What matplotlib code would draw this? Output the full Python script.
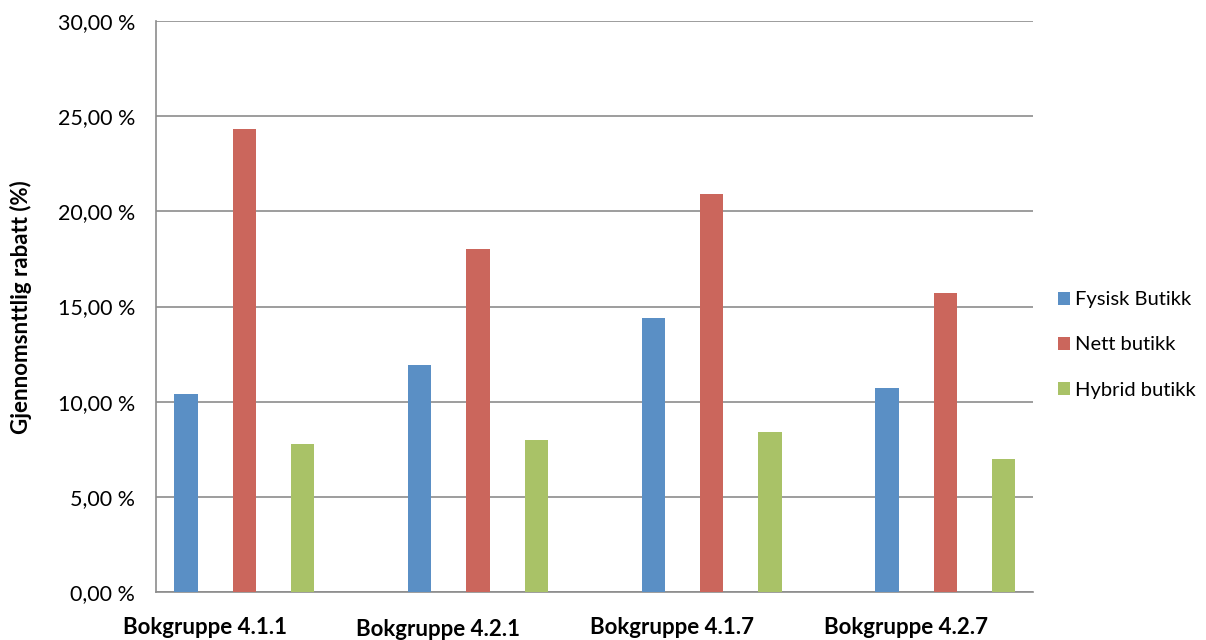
import matplotlib
matplotlib.use('Agg')
import matplotlib.pyplot as plt
import numpy as np

# Gjennomsnittlig rabatt per bokgruppe og butikktype (%)
groups = ['Bokgruppe 4.1.1', 'Bokgruppe 4.2.1', 'Bokgruppe 4.1.7', 'Bokgruppe 4.2.7']
series_names = ['Fysisk Butikk', 'Nett butikk', 'Hybrid butikk']
fysisk = [10.4, 11.95, 14.4, 10.7]
nett = [24.35, 18.0, 20.9, 15.7]
hybrid = [7.8, 8.0, 8.4, 7.0]
colors = ['#5A8FC5', '#CB665C', '#A9C267']

plt.rcParams['font.family'] = ['Lato', 'DejaVu Sans']

fig = plt.figure(figsize=(12.06, 6.4), dpi=100)
ax = fig.add_axes([0.1294, 0.075, 0.7269, 0.892])

x = np.arange(len(groups))
width = 0.1
offsets = [-0.25, 0.0, 0.25]
for vals, off, col, name in zip([fysisk, nett, hybrid], offsets, colors, series_names):
    ax.bar(x + off, vals, width, color=col, label=name, zorder=3)

ax.set_ylim(0, 30)
ax.set_xlim(-0.378, 3.374)
ax.set_yticks(np.arange(0, 31, 5))
ax.set_yticklabels([f'{v:.2f} %'.replace('.', ',') for v in np.arange(0, 31, 5)],
                   fontsize=15.5)
ax.tick_params(axis='y', length=0, pad=15)
ax.tick_params(axis='x', length=0, labelbottom=False)
ax.yaxis.grid(True, color='#8c8c8c', linewidth=1.2, zorder=0)
ax.set_axisbelow(True)
for s in ['top', 'right']:
    ax.spines[s].set_visible(False)
for s in ['left', 'bottom']:
    ax.spines[s].set_color('#8c8c8c')
    ax.spines[s].set_linewidth(1.2)

# Kategorinavn under aksen, litt forskjøvet slik som i Excel-eksporten
label_y = [-0.063, -0.066, -0.062, -0.062]
for xi, name, ly in zip(x, groups, label_y):
    ax.text(xi - 0.17, ly, name, transform=ax.get_xaxis_transform(),
            ha='center', va='center', fontsize=16, fontweight='bold')

fig.text(0.017, 0.52, 'Gjennomsnttlig rabatt (%)', rotation=90, ha='center',
         va='center', fontsize=16, fontweight='bold')

fig.legend(loc='center left', bbox_to_anchor=(0.862, 1 - 345 / 640), frameon=False,
           fontsize=14.5, handlelength=0.6, handleheight=0.6, handletextpad=0.25,
           labelspacing=1.4)

fig.savefig('out.png', dpi=100)
